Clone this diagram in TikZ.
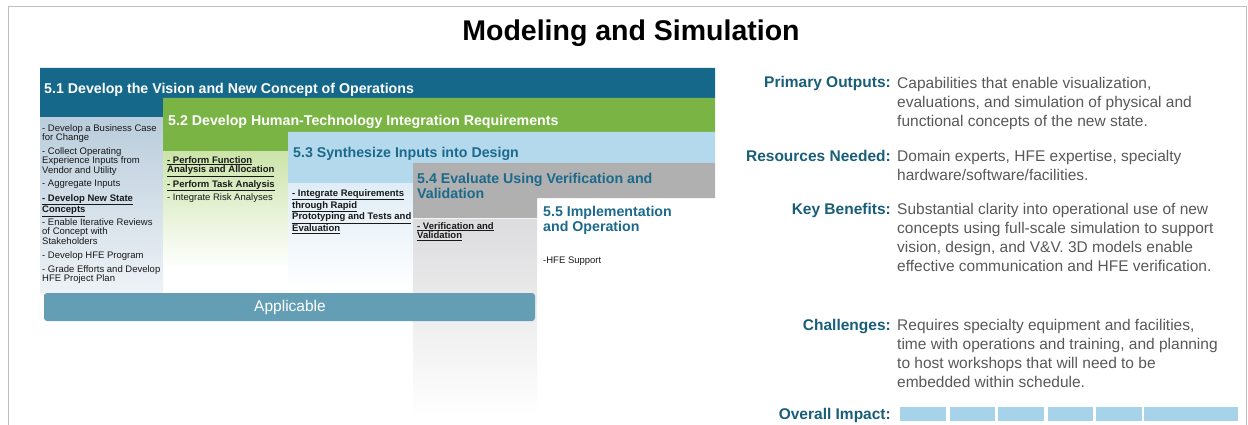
\documentclass[tikz,border=0pt]{standalone}
\usepackage{fontspec}
\setmainfont{Liberation Sans}
\usetikzlibrary{positioning}
\definecolor{c51}{RGB}{22,104,138}
\definecolor{c52}{RGB}{122,180,68}
\definecolor{c53}{RGB}{180,216,236}
\definecolor{c54}{RGB}{176,176,176}
\definecolor{b51}{RGB}{186,205,220}
\definecolor{b52}{RGB}{204,228,170}
\definecolor{b53}{RGB}{224,237,246}
\definecolor{b54}{RGB}{220,220,222}
\definecolor{hdrteal}{RGB}{27,106,140}
\definecolor{keyteal}{RGB}{24,94,120}
\definecolor{valgrey}{RGB}{88,88,88}
\definecolor{appfill}{RGB}{100,158,180}
\definecolor{impfill}{RGB}{166,210,234}
\newcommand{\ulb}[1]{\underline{\textbf{#1}}}
\begin{document}
\begin{tikzpicture}[
  x=1pt, y=-1pt,
  hdr/.style={anchor=north west, yshift=10.3pt, inner sep=0pt, align=left, font=\bfseries\fontsize{14.2}{15}\selectfont},
  item/.style={anchor=north west, yshift=6.9pt, inner sep=0pt, align=left, text=black!90, font=\fontsize{9.5}{9.8}\selectfont},
  key/.style={anchor=base east, inner sep=0pt, text=keyteal, font=\bfseries\fontsize{15.5}{19}\selectfont},
  val/.style={anchor=north west, yshift=11.3pt, inner sep=0pt, align=left, text=valgrey, font=\fontsize{15.5}{19}\selectfont},
]
\useasboundingbox (0,0) rectangle (1248,425);
\draw[black!25, line width=1pt] (8,430) -- (8,7) -- (1246,7) -- (1246,430);
\node[inner sep=0pt, anchor=base, font=\bfseries\fontsize{28.5}{30}\selectfont] (title) at (631,41) {Modeling and Simulation};

\fill[c51] (40,68) rectangle (715,98) (40,98) rectangle (163,118);
\shade[top color=b51, bottom color=b51!25] (40,118) rectangle (163,292);
\fill[c52] (163,98) rectangle (715,132) (163,132) rectangle (288,152);
\shade[top color=b52, bottom color=white] (163,152) rectangle (288,268);
\fill[c53] (288,132) rectangle (715,163) (288,163) rectangle (413,184);
\shade[top color=b53, bottom color=white] (288,184) rectangle (413,290);
\fill[c54] (413,163) rectangle (715,198) (413,198) rectangle (537,218);
\shade[top color=b54, bottom color=white] (413,219) rectangle (537,415);

\node[hdr, text=white] (h51) at (44,93) {5.1 Develop the Vision and New Concept of Operations};
\node[hdr, text=white] (h52) at (168,125) {5.2 Develop Human-Technology Integration Requirements};
\node[hdr, text=hdrteal] (h53) at (293,157) {5.3 Synthesize Inputs into Design};
\node[hdr, text=hdrteal] (h54) at (417,183) {5.4 Evaluate Using Verification and\\[0pt]Validation};
\node[hdr, text=hdrteal] (h55) at (543,216) {5.5 Implementation\\[0pt]and Operation};

\node[item] (a1) at (42,131) {- Develop a Business Case\\for Change};
\node[item] (a2) at (42,154) {- Collect Operating\\Experience Inputs from\\Vendor and Utility};
\node[item] (a3) at (42,187) {- Aggregate Inputs};
\node[item] (a4) at (42,201) {\ulb{- Develop New State}\\\ulb{Concepts}};
\node[item] (a5) at (42,225) {- Enable Iterative Reviews\\of Concept with\\Stakeholders};
\node[item] (a6) at (42,258) {- Develop HFE Program};
\node[item] (a7) at (42,272) {- Grade Efforts and Develop\\HFE Project Plan};
\node[item] (b1) at (167,163) {\ulb{- Perform Function}\\\ulb{Analysis and Allocation}};
\node[item] (b2) at (167,187) {\ulb{- Perform Task Analysis}};
\node[item] (b3) at (167,200) {- Integrate Risk Analyses};
\node[item] (c1) at (292,196) {\ulb{- Integrate Requirements}\\\ulb{through Rapid}\\\ulb{Prototyping and Tests and}\\\ulb{Evaluation}};
\node[item] (d1) at (417,229) {\ulb{- Verification and}\\\ulb{Validation}};
\node[item] (e1) at (543,264) {-HFE Support};

\fill[appfill, rounded corners=3pt] (44,293) rectangle (535,321);
\node[inner sep=0pt, text=white, font=\fontsize{15.5}{17}\selectfont] (app) at (290,307) {Applicable};

\node[key] (k1) at (891,88) {Primary Outputs:};
\node[val] (v1) at (897,88) {Capabilities that enable visualization,\\evaluations, and simulation of physical and\\functional concepts of the new state.};
\node[key] (k2) at (891,161) {Resources Needed:};
\node[val] (v2) at (897,161) {Domain experts, HFE expertise, specialty\\hardware/software/facilities.};
\node[key] (k3) at (891,214) {Key Benefits:};
\node[val] (v3) at (897,214) {Substantial clarity into operational use of new\\concepts using full-scale simulation to support\\vision, design, and V\&V. 3D models enable\\effective communication and HFE verification.};
\node[key] (k4) at (891,330) {Challenges:};
\node[val] (v4) at (897,330) {Requires specialty equipment and facilities,\\time with operations and training, and planning\\to host workshops that will need to be\\embedded within schedule.};
\node[key] (k5) at (891,419) {Overall Impact:};
\foreach \xa/\xb in {900/946, 950/995, 998/1044, 1048/1093, 1096/1142, 1144/1238}
  \fill[impfill] (\xa,407) rectangle (\xb,421);
\end{tikzpicture}
\end{document}
